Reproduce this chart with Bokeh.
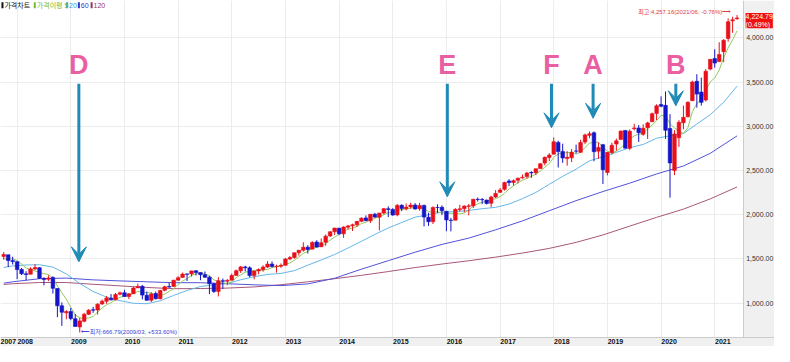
import pandas as pd
from bokeh.plotting import figure
from bokeh.models import (ColumnDataSource, FixedTicker, NumeralTickFormatter, Label,
                          Arrow, VeeHead, Range1d, LinearAxis, BoxAnnotation)
from bokeh.embed import file_html
from bokeh.resources import INLINE

# ---------------- data (monthly candles, 2007/10 .. 2021/06) ----------------
start_month = "2007/10"
open_ = [
    1527.3, 1545.8, 1479.6,
    1468.0, 1378.6, 1330.5, 1326.4, 1386.0, 1399.6, 1276.7, 1269.4, 1287.8, 1164.2, 968.7, 888.6,
    903.0, 823.1, 729.6, 793.6, 872.7, 923.3, 920.8, 990.2, 1019.5, 1054.9, 1036.2, 1098.9,
    1116.6, 1073.9, 1105.4, 1171.2, 1188.6, 1087.3, 1031.1, 1107.5, 1049.7, 1143.5, 1185.7, 1186.6,
    1257.6, 1289.1, 1328.6, 1329.5, 1365.2, 1345.2, 1320.6, 1292.6, 1219.1, 1131.2, 1251.0, 1246.9,
    1258.9, 1312.5, 1365.2, 1408.5, 1397.9, 1310.6, 1362.3, 1379.3, 1406.5, 1440.9, 1412.2, 1416.2,
    1426.2, 1498.1, 1514.7, 1569.2, 1597.6, 1631.7, 1609.8, 1689.4, 1636.0, 1687.3, 1758.7, 1806.6,
    1845.9, 1782.7, 1857.7, 1874.0, 1884.4, 1923.9, 1962.3, 1929.8, 2004.1, 1971.4, 2018.2, 2065.8,
    2058.9, 1996.7, 2105.2, 2067.6, 2087.4, 2108.6, 2067.0, 2104.5, 1970.1, 1919.7, 2080.8, 2082.9,
    2038.2, 1936.9, 1937.1, 2056.6, 2067.2, 2093.9, 2099.3, 2173.2, 2171.3, 2164.3, 2128.7, 2200.2,
    2251.6, 2285.6, 2380.1, 2362.3, 2388.5, 2415.7, 2431.4, 2477.1, 2474.4, 2521.2, 2583.2, 2645.1,
    2683.7, 2816.5, 2715.2, 2633.5, 2643.0, 2718.7, 2705.0, 2821.2, 2897.0, 2926.3, 2717.6, 2790.5,
    2477.0, 2702.3, 2798.2, 2848.6, 2952.3, 2751.5, 2971.4, 2980.3, 2909.0, 2983.7, 3050.7, 3143.9,
    3244.7, 3235.7, 2974.3, 2498.1, 2869.1, 3038.8, 3105.9, 3288.3, 3507.4, 3385.9, 3296.2, 3645.9,
    3764.6, 3731.2, 3842.5, 3992.8, 4192.0, 4216.5]
high = [
    1576.1, 1545.8, 1523.6,
    1471.8, 1396.0, 1359.7, 1404.2, 1440.2, 1404.1, 1292.2, 1313.2, 1303.0, 1167.0, 1007.5, 918.9,
    943.9, 875.0, 833.0, 888.7, 930.2, 956.2, 996.7, 1039.5, 1080.2, 1101.4, 1113.7, 1130.4,
    1150.5, 1112.4, 1180.7, 1219.8, 1205.1, 1131.2, 1121.0, 1129.2, 1148.9, 1196.1, 1227.1, 1262.6,
    1302.7, 1344.1, 1332.3, 1366.1, 1370.6, 1345.2, 1356.5, 1307.4, 1229.3, 1292.7, 1277.6, 1269.4,
    1333.5, 1378.0, 1419.2, 1422.4, 1415.3, 1363.5, 1391.7, 1426.7, 1474.5, 1471.0, 1434.3, 1448.0,
    1509.9, 1530.9, 1570.3, 1597.6, 1687.2, 1654.2, 1698.8, 1709.7, 1729.9, 1775.2, 1813.6, 1849.4,
    1850.8, 1867.9, 1884.0, 1897.3, 1924.0, 1968.2, 1991.4, 2005.0, 2019.3, 2018.2, 2075.8, 2093.6,
    2072.4, 2119.6, 2117.5, 2125.9, 2134.7, 2129.9, 2132.8, 2112.7, 2020.9, 2094.3, 2116.5, 2104.3,
    2038.2, 1963.0, 2072.2, 2111.1, 2103.5, 2120.6, 2177.1, 2193.8, 2187.9, 2169.6, 2214.1, 2277.5,
    2301.0, 2371.5, 2401.0, 2398.2, 2418.7, 2453.8, 2484.0, 2490.9, 2519.4, 2583.0, 2657.7, 2695.0,
    2872.9, 2836.0, 2801.9, 2717.5, 2742.2, 2791.5, 2848.0, 2916.5, 2940.9, 2939.9, 2815.2, 2800.2,
    2709.0, 2813.5, 2860.3, 2949.5, 2954.1, 2964.2, 3028.0, 3013.6, 3022.0, 3050.1, 3154.3, 3247.9,
    3337.8, 3393.5, 3136.7, 2954.9, 3068.7, 3233.1, 3280.0, 3514.8, 3588.1, 3549.9, 3646.0, 3760.2,
    3870.9, 3950.4, 3983.9, 4218.8, 4238.0, 4257.16]
low = [
    1489.6, 1406.1, 1435.7,
    1270.1, 1316.8, 1257.0, 1324.4, 1373.1, 1272.0, 1200.4, 1247.5, 1106.4, 839.8, 741.0, 815.7,
    804.9, 734.5, 666.79, 783.3, 866.1, 888.9, 869.3, 978.5, 992.0, 1029.4, 1029.4, 1085.9,
    1071.6, 1044.5, 1101.4, 1170.7, 1040.8, 1028.3, 1010.9, 1039.7, 1039.7, 1131.9, 1173.0, 1186.6,
    1257.6, 1289.1, 1249.1, 1299.3, 1311.8, 1258.1, 1282.9, 1101.5, 1114.2, 1074.8, 1158.7, 1202.4,
    1258.9, 1312.5, 1340.0, 1357.4, 1292.0, 1266.7, 1325.4, 1354.7, 1396.6, 1403.3, 1343.4, 1398.1,
    1426.2, 1485.0, 1501.5, 1536.0, 1581.3, 1560.3, 1604.6, 1627.5, 1633.4, 1646.5, 1746.2, 1768.0,
    1770.5, 1737.9, 1834.4, 1814.4, 1859.8, 1916.0, 1930.7, 1904.8, 1964.0, 1820.7, 2001.0, 1972.6,
    1988.1, 1980.9, 2039.7, 2048.4, 2067.9, 2056.3, 2044.0, 1867.0, 1871.9, 1893.7, 2019.4, 1993.3,
    1812.3, 1810.1, 1937.1, 2033.8, 2025.9, 1991.7, 2074.0, 2147.6, 2119.1, 2114.7, 2083.8, 2187.4,
    2245.1, 2271.7, 2322.3, 2329.0, 2352.7, 2405.7, 2407.7, 2417.4, 2446.6, 2520.4, 2557.5, 2605.5,
    2682.4, 2532.7, 2585.9, 2553.8, 2594.6, 2692.0, 2699.0, 2796.3, 2864.1, 2603.5, 2631.1, 2346.6,
    2444.0, 2681.8, 2722.3, 2848.6, 2750.5, 2728.8, 2952.2, 2822.1, 2891.9, 2855.9, 3050.7, 3070.3,
    3214.6, 2855.8, 2191.9, 2447.5, 2766.6, 2965.7, 3101.2, 3284.5, 3209.5, 3233.9, 3279.7, 3633.4,
    3662.7, 3725.6, 3723.3, 3955.3, 4056.9, 4203.0]
close = [
    1549.4, 1481.1, 1468.4,
    1378.6, 1330.6, 1322.7, 1385.6, 1400.4, 1280.0, 1267.4, 1282.8, 1166.4, 968.8, 896.2, 903.3,
    825.9, 735.1, 797.9, 872.8, 919.1, 919.3, 987.5, 1020.6, 1057.1, 1036.2, 1095.6, 1115.1,
    1073.9, 1104.5, 1169.4, 1186.7, 1089.4, 1030.7, 1101.6, 1049.3, 1141.2, 1183.3, 1180.6, 1257.6,
    1286.1, 1327.2, 1325.8, 1363.6, 1345.2, 1320.6, 1292.3, 1218.9, 1131.4, 1253.3, 1247.0, 1257.6,
    1312.4, 1365.7, 1408.5, 1397.9, 1310.3, 1362.2, 1379.3, 1406.6, 1440.7, 1412.2, 1416.2, 1426.2,
    1498.1, 1514.7, 1569.2, 1597.6, 1630.7, 1606.3, 1685.7, 1633.0, 1681.6, 1756.5, 1805.8, 1848.4,
    1782.6, 1859.5, 1872.3, 1884.0, 1923.6, 1960.2, 1930.7, 2003.4, 1972.3, 2018.1, 2067.6, 2058.9,
    1995.0, 2104.5, 2067.9, 2085.5, 2107.4, 2063.1, 2103.8, 1972.2, 1920.0, 2079.4, 2080.4, 2043.9,
    1940.2, 1932.2, 2059.7, 2065.3, 2097.0, 2098.9, 2173.6, 2171.0, 2168.3, 2126.2, 2198.8, 2238.8,
    2278.9, 2363.6, 2362.7, 2384.2, 2411.8, 2423.4, 2470.3, 2471.7, 2519.4, 2575.3, 2647.6, 2673.6,
    2823.8, 2713.8, 2640.9, 2648.1, 2705.3, 2718.4, 2816.3, 2901.5, 2914.0, 2711.7, 2760.2, 2506.9,
    2704.1, 2784.5, 2834.4, 2945.8, 2752.1, 2941.8, 2980.4, 2926.5, 2976.7, 3037.6, 3141.0, 3230.8,
    3225.5, 2954.2, 2584.6, 2912.4, 3044.3, 3100.3, 3271.1, 3500.3, 3363.0, 3270.0, 3621.6, 3756.1,
    3714.2, 3811.2, 3972.9, 4181.2, 4204.1, 4224.79]
prior_closes = [1503.4, 1455.3, 1473.9, 1526.8]   # 2007/06..2007/09, for the 5-month average

# moving averages (month, value)
ma20_months = ["2007/10", "2007/12", "2008/03", "2008/06", "2008/09", "2008/12", "2009/03", "2009/06",
               "2009/09", "2009/12", "2010/03", "2010/06", "2010/09", "2010/12", "2011/03", "2011/06",
               "2011/09", "2011/12", "2012/03", "2012/06", "2012/09", "2012/12", "2013/03", "2013/06",
               "2013/09", "2013/12", "2014/03", "2014/06", "2014/09", "2014/12", "2015/03", "2015/06",
               "2015/09", "2015/12", "2016/03", "2016/06", "2016/09", "2016/12", "2017/03", "2017/06",
               "2017/09", "2017/12", "2018/03", "2018/06", "2018/09", "2018/12", "2019/03", "2019/06",
               "2019/09", "2019/12", "2020/03", "2020/06", "2020/09", "2020/12", "2021/03", "2021/06"]
ma20_values = [1402, 1420, 1430, 1433, 1406, 1329, 1222, 1130, 1067, 1027, 997, 992, 1025, 1086, 1142,
               1187, 1205, 1220, 1263, 1298, 1323, 1335, 1366, 1428, 1487, 1549, 1622, 1698, 1776, 1849,
               1911, 1971, 1999, 2028, 2034, 2047, 2067, 2082, 2119, 2181, 2251, 2343, 2433, 2514, 2609,
               2653, 2704, 2757, 2794, 2864, 2891, 2917, 3025, 3130, 3271, 3454]
ma_long_months = ["2007/10", "2007/12", "2008/06", "2008/12", "2009/06", "2009/12", "2010/06", "2010/12",
                  "2011/06", "2011/12", "2012/06", "2012/12", "2013/06", "2013/12", "2014/06", "2014/12",
                  "2015/06", "2015/12", "2016/06", "2016/12", "2017/06", "2017/12", "2018/06", "2018/12",
                  "2019/06", "2019/12", "2020/06", "2020/12", "2021/06"]
ma60_values = [1225, 1240, 1275, 1282, 1262, 1250, 1240, 1230, 1230, 1218, 1206, 1197, 1216, 1280, 1383,
               1479, 1575, 1663, 1734, 1828, 1929, 2044, 2158, 2261, 2356, 2460, 2550, 2693, 2891]
ma120_values = [1210, 1218, 1232, 1232, 1212, 1194, 1176, 1162, 1164, 1169, 1182, 1207, 1240, 1275, 1313,
                1356, 1401, 1441, 1478, 1519, 1565, 1618, 1686, 1770, 1870, 1969, 2062, 2178, 2313]

year_labels = ["2007", "2008", "2009", "2010", "2011", "2012", "2013", "2014",
               "2015", "2016", "2017", "2018", "2019", "2020", "2021"]
y_ticks = [1000, 1500, 2000, 2500, 3000, 3500, 4000]

# annotations: letter, month it points at, arrow tip value
marks = ["D", "E", "F", "A", "B"]
mark_months = [25.8, 108.2, 131.5, 140.8, 159.3]
mark_tip = [1466, 2202, 2982, 3090, 3231]
mark_top = [3480, 3480, 3480, 3480, 3480]
letter_y = 3690
change_pct = "0.49%"
high_pct = "-0.76%"
low_pct = "+533.60%"

# ---------------- helpers ----------------
def midx(label):
    y, m = label.split("/")
    return (int(y) - 2007) * 12 + int(m) - 1

n = len(close)
assert len(open_) == n == len(high) == len(low)
x0 = midx(start_month)
xs = [x0 + i for i in range(n)]
month_labels = [f"{2007 + (x // 12)}/{x % 12 + 1:02d}" for x in xs]

UP, DOWN = "#e8101a", "#1414c8"
colors = [UP if c >= o else DOWN for o, c in zip(open_, close)]
src = ColumnDataSource(dict(
    x=xs, open=open_, high=high, low=low, close=close,
    top=[max(o, c) for o, c in zip(open_, close)],
    bottom=[min(o, c) for o, c in zip(open_, close)],
    color=colors))

ma5 = pd.Series(prior_closes + close).rolling(5).mean().tolist()[len(prior_closes):]

# reference layout: chart area 758 px wide, price panel 32 px, chart 352 px tall
X0 = 8.28
MPX = 12 / 54.77              # months per reference px
X_PANEL = X0 + 758 * MPX      # boundary between chart and price panel
X1 = X0 + 790 * MPX
Y0, Y1 = 610, 4422
PXY = (Y1 - Y0) / 352.0

def px_x(px):
    return X0 + px * MPX

def px_y(py):
    return Y1 - py * PXY

p = figure(width=774, height=346, output_backend="svg", toolbar_location=None,
           x_range=Range1d(X0, X1), y_range=Range1d(Y0, Y1),
           y_axis_location=None, min_border=0)
p.min_border_left = 0
p.min_border_top = 0
p.min_border_right = 0
p.min_border_bottom = 0
p.background_fill_color = "white"
p.border_fill_color = "#f0f0f0"
p.outline_line_color = None

FONT = "Liberation Sans, sans-serif"
KRN = "Liberation Sans, Noto Sans CJK KR, sans-serif"

# grey price panel on the right
p.add_layout(BoxAnnotation(left=X_PANEL, fill_color="#f0f0f0", fill_alpha=1.0,
                           line_color=None, level="glyph"))

# price axis (drawn at the panel boundary)
yax = LinearAxis(fixed_location=X_PANEL)
yax.ticker = FixedTicker(ticks=y_ticks)
yax.formatter = NumeralTickFormatter(format="0,0.00")
yax.major_label_text_font = FONT
yax.major_label_text_font_size = "7px"
yax.major_label_text_color = "#333333"
yax.major_tick_out = 0
yax.major_tick_in = 0
yax.minor_tick_out = 0
yax.minor_tick_in = 0
yax.axis_line_color = "#cccccc"
yax.major_label_standoff = 3
p.add_layout(yax, "right")

jan_ticks = [midx(f"{y}/01") for y in year_labels[1:]]
label_ticks = [px_x(7.2)] + [t + 1.8 for t in jan_ticks]
xax = p.xaxis[0]
xax.ticker = FixedTicker(ticks=label_ticks)
xax.major_label_overrides = {t: lab for t, lab in zip(label_ticks, year_labels)}
xax.major_label_text_font = FONT
xax.major_label_text_font_size = "7px"
xax.major_label_text_font_style = "bold"
xax.major_label_text_color = "#111111"
xax.major_tick_out = 0
xax.major_tick_in = 0
xax.minor_tick_out = 0
xax.minor_tick_in = 0
xax.axis_line_color = "#cccccc"
xax.major_label_standoff = 1

p.xgrid.ticker = FixedTicker(ticks=jan_ticks)
p.xgrid.grid_line_color = "#ececec"
p.ygrid.ticker = FixedTicker(ticks=y_ticks)
p.ygrid.grid_line_color = "#ececec"

# moving averages
p.line([midx(m) for m in ma_long_months], ma120_values, line_color="#a8577a", line_width=1)
p.line([midx(m) for m in ma_long_months], ma60_values, line_color="#5252dc", line_width=1)
p.line([midx(m) for m in ma20_months], ma20_values, line_color="#66b6ea", line_width=1)
p.line(xs, ma5, line_color="#93c95c", line_width=1)

# candles
p.segment(x0="x", y0="low", x1="x", y1="high", line_color="color", line_width=1, source=src)
p.vbar(x="x", width=0.8, top="top", bottom="bottom", fill_color="color", line_color="color",
       line_width=0.6, source=src)

# arrows and letters
for lab, mx, tip, top in zip(marks, mark_months, mark_tip, mark_top):
    p.add_layout(Arrow(x_start=mx, y_start=top, x_end=mx, y_end=tip,
                       line_color="#1f8bb6", line_width=3,
                       end=VeeHead(size=15, fill_color="#1f8bb6", line_color="#1f8bb6")))
    p.add_layout(Label(x=mx, y=letter_y, text=lab, text_align="center", text_baseline="middle",
                       text_font=FONT, text_font_style="bold", text_font_size="27px",
                       text_color="#ea5ea2"))

# high / low annotations
ih = max(range(n), key=lambda i: high[i])
il = min(range(n), key=lambda i: low[i])
p.add_layout(Label(x=xs[ih] - 1.3, y=high[ih], y_offset=3,
                   text=f"최고:{high[ih]:,.2f}({month_labels[ih]}, {high_pct})⟶",
                   text_align="right", text_baseline="middle", text_font=KRN,
                   text_font_size="6px", text_color="#e03a3a"))
p.add_layout(Label(x=xs[il], y=low[il], x_offset=1,
                   text=f"⟵최저:{low[il]:,.2f}({month_labels[il]}, {low_pct})",
                   text_align="left", text_baseline="middle", text_font=KRN,
                   text_font_size="6px", text_color="#4040d8"))

# legend (top-left)
legend_items = [("가격차트", "#111111", 1), ("가격이평 5", "#77bb33", 34),
                ("20", "#3399dd", 67), ("60", "#3333cc", 79), ("120", "#993366", 92)]
for txt, col, px in legend_items:
    p.rect(x=[px_x(px + 1)], y=[px_y(5)], width=2, height=6, width_units="screen",
           height_units="screen", fill_color=col, line_color=None)
    p.add_layout(Label(x=px_x(px + 3), y=px_y(5), text=txt, text_align="left",
                       text_baseline="middle", text_font=KRN, text_font_size="7px",
                       text_color=col))

# current price tag on the price panel
p.add_layout(Label(x=px_x(760.5), y=close[-1], y_offset=5,
                   text=f"{close[-1]:,.2f}\n({change_pct})",
                   text_align="left", text_baseline="top", text_font=FONT,
                   text_font_size="7px", text_color="white",
                   background_fill_color="#f01010", text_line_height=1.2))

open("out.html", "w").write(file_html(p, INLINE))
